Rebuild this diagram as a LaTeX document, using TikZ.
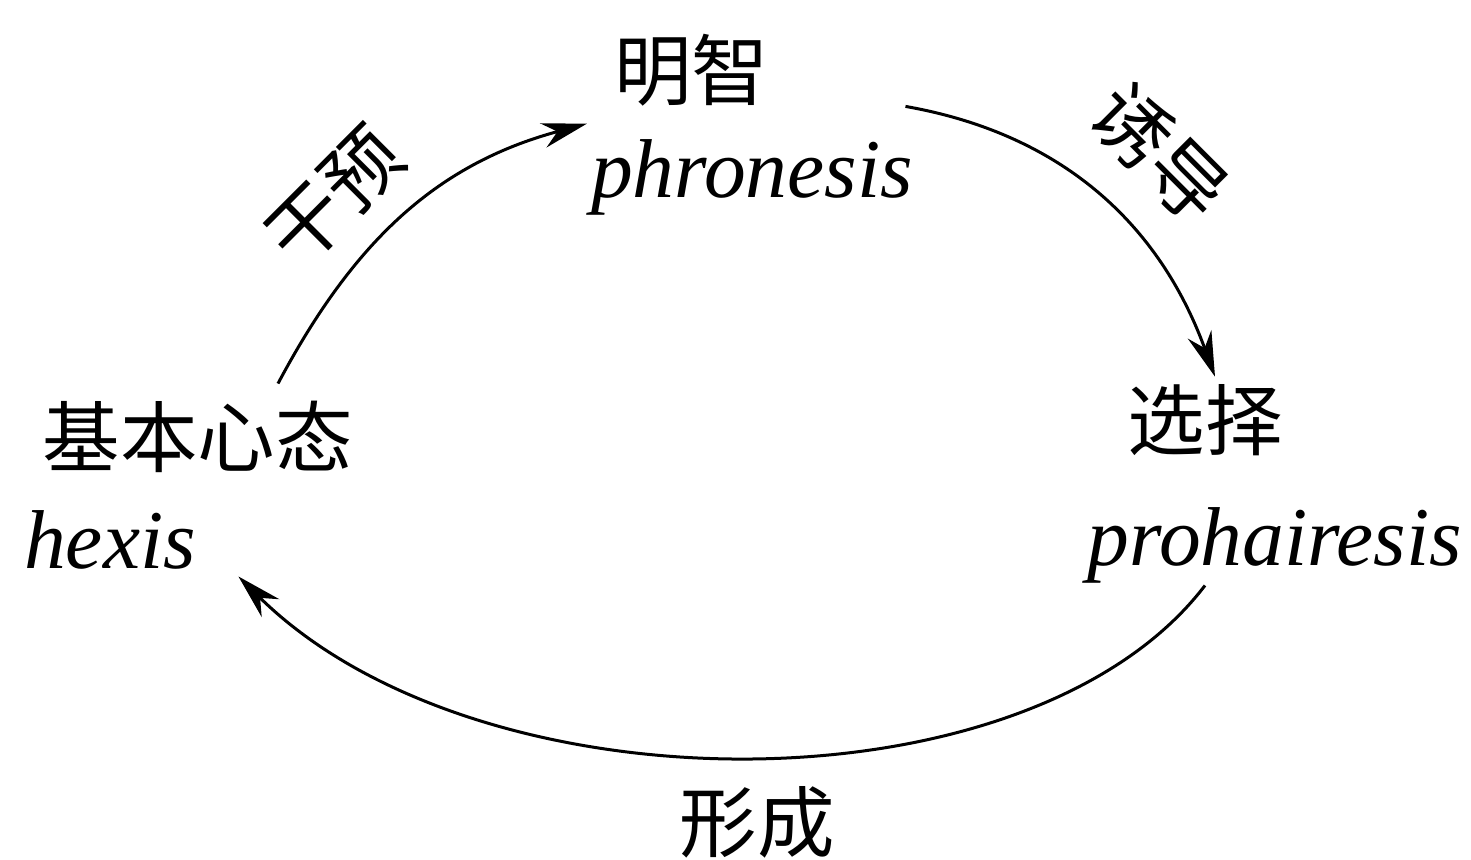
\documentclass[tikz,border=0pt]{standalone}
\usepackage{fontspec}
\setmainfont{Liberation Serif}[ItalicFont={Liberation Serif Italic}]
\newfontfamily\cjk{Noto Sans CJK SC}
\newfontfamily\latit{Liberation Serif Italic}
\usetikzlibrary{arrows.meta}
\begin{document}
\begin{tikzpicture}[x=0.2pt,y=0.2pt,
        cn/.style={font=\cjk\fontsize{15.5}{18}\selectfont},
        lat/.style={anchor=base,font=\latit\fontsize{16.7}{20}\selectfont},
        arc/.style={line width=0.6pt,-{Stealth[length=9pt,width=5pt]}}]
        \useasboundingbox (0,0) rectangle (1471,859);

        \node[cn] (mingzhi) at (692,789) {明智};
        \node[lat] (phronesis) at (752,662) {phronesis};

        \node[cn] (xuanze) at (1205,439) {选择};
        \node[lat] (prohairesis) at (1275,294) {prohairesis};

        \node[cn] (jibenxintai) at (198,422) {基本心态};
        \node[lat] (hexis) at (110,291) {hexis};

        \node[cn,rotate=45] (ganyu) at (335,662) {干预};
        \node[cn,rotate=-45] (youdao) at (1160,706) {诱导};
        \node[cn] (xingcheng) at (757,37) {形成};

        \draw[arc] ([xshift=16pt]jibenxintai.north) to[out=62,in=195]
                ([xshift=-2pt]mingzhi.south west);
        \draw[arc] ([shift={(-5pt,3pt)}]phronesis.north east) to[out=-10,in=110]
                ([shift={(2pt,-2pt)}]xuanze.north);
        \draw[arc] ([shift={(-14pt,3pt)}]prohairesis.south)
                .. controls (1030,44) and (480,44) ..
                ([shift={(5pt,2pt)}]hexis.south east);
        \end{tikzpicture}
\end{document}
